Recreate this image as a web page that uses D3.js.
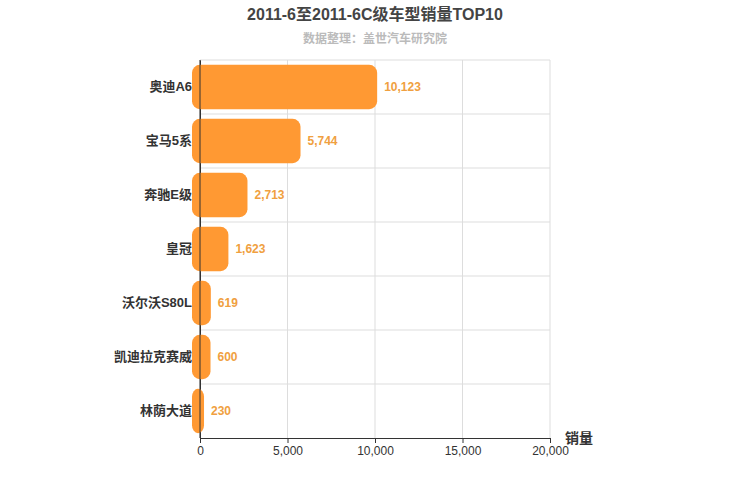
<!DOCTYPE html>
<html><head><meta charset="utf-8">
<script src="https://cdn.jsdelivr.net/npm/d3@7"></script>
<style>body{margin:0;background:#fff}</style>
</head><body><div id="viz"></div>
<script>
const categories = ["奥迪A6", "宝马5系", "奔驰E级", "皇冠", "沃尔沃S80L", "凯迪拉克赛威", "林荫大道"];
const sales = [10123, 5744, 2713, 1623, 619, 600, 230];
const xTicks = [0, 5000, 10000, 15000, 20000];

const W = 750, H = 500;
const m = {left: 200, right: 200, top: 60, bottom: 62};
const font = "'Helvetica Neue', Arial, 'Noto Sans CJK SC', sans-serif";

const svg = d3.select("#viz").append("svg")
  .attr("width", W).attr("height", H)
  .style("font-family", font);

const x = d3.scaleLinear().domain([0, 20000]).range([m.left, W - m.right]);
const y = d3.scaleBand().domain(categories).range([m.top, H - m.bottom]).paddingInner(0.18).paddingOuter(0.09);
const yb = d3.scaleBand().domain(categories).range([m.top, H - m.bottom]);

// grid
svg.append("g").selectAll("line").data(xTicks).join("line")
  .attr("x1", d => x(d)).attr("x2", d => x(d))
  .attr("y1", m.top).attr("y2", H - m.bottom)
  .attr("stroke", "#ddd");
svg.append("g").selectAll("line").data(categories.slice(1)).join("line")
  .attr("x1", m.left).attr("x2", W - m.right)
  .attr("y1", d => yb(d)).attr("y2", d => yb(d))
  .attr("stroke", "#ddd");
svg.append("line").attr("x1", m.left).attr("x2", W - m.right)
  .attr("y1", m.top).attr("y2", m.top).attr("stroke", "#ddd");

// axes
const xa = svg.append("g").attr("transform", `translate(0,${H - m.bottom})`)
  .call(d3.axisBottom(x).tickValues(xTicks).tickSize(5).tickFormat(d3.format(",")));
xa.selectAll("text").attr("font-size", 12).attr("fill", "#333").attr("font-family", font);
xa.selectAll("line,path").attr("stroke", "#333");

const ya = svg.append("g").attr("transform", `translate(${m.left},0)`)
  .call(d3.axisLeft(yb).tickSize(0).tickPadding(8));
ya.selectAll("text").attr("font-size", 13).attr("font-weight", "bold").attr("fill", "#333").attr("font-family", font);
ya.select("path").attr("stroke", "#333");

// bars
svg.append("g").selectAll("rect").data(categories).join("rect")
  .attr("x", m.left - 8)
  .attr("y", d => y(d))
  .attr("width", (d, i) => x(sales[i]) - m.left + 8)
  .attr("height", y.bandwidth())
  .attr("rx", 8)
  .attr("fill", "#ff9933");
svg.append("line").attr("x1", m.left).attr("x2", m.left)
  .attr("y1", m.top).attr("y2", H - m.bottom).attr("stroke", "#333");

svg.append("g").selectAll("text").data(categories).join("text")
  .attr("x", (d, i) => x(sales[i]) + 7)
  .attr("y", d => y(d) + y.bandwidth() / 2 + 4)
  .attr("font-size", 12).attr("font-weight", "bold").attr("fill", "#f0a040")
  .text((d, i) => d3.format(",")(sales[i]));

svg.append("text").attr("x", 375).attr("y", 20).attr("text-anchor", "middle")
  .attr("font-size", 16).attr("font-weight", "bold").attr("fill", "#444")
  .text("2011-6至2011-6C级车型销量TOP10");
svg.append("text").attr("x", 375).attr("y", 43).attr("text-anchor", "middle")
  .attr("font-size", 12).attr("font-weight", "bold").attr("fill", "#bbb")
  .text("数据整理：盖世汽车研究院");
svg.append("text").attr("x", 565).attr("y", 443)
  .attr("font-size", 14).attr("font-weight", "bold").attr("fill", "#333")
  .text("销量");
</script></body></html>
